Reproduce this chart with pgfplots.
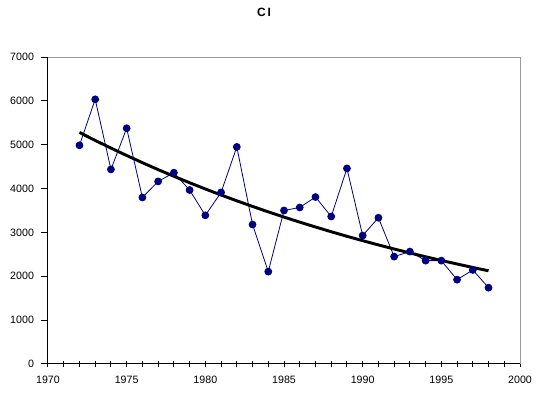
\documentclass[border=0pt]{standalone}
\usepackage{pgfplots}
\pgfplotsset{compat=1.18}
\usepackage{fontspec}
\setmainfont{Liberation Sans}
\definecolor{navy}{HTML}{000080}
\begin{document}
\begin{tikzpicture}
\useasboundingbox (-36pt,-25.5pt) rectangle (367.5pt,273pt);
\begin{axis}[
  at={(0pt,0pt)}, anchor=origin,
  scale only axis, width=354pt, height=230.25pt,
  xmin=1970, xmax=2000, ymin=0, ymax=7000,
  axis lines*=left,
  axis line style={black, line width=0.75pt},
  xtick={1970,1975,...,2000},
  minor x tick num=4,
  ytick={0,1000,...,7000},
  /pgf/number format/1000 sep={},
  /pgf/number format/assume math mode=true,
  tick label style={font=\fontsize{8}{9.6}\selectfont},
  x tick style={black, line width=0.75pt},
  y tick style={black, line width=0.75pt},
  minor x tick style={black, line width=0.75pt},
  xtick align=center, ytick align=outside,
  major tick length=5pt, minor tick length=5pt,
  xticklabel style={yshift=-3pt},
  yticklabel style={xshift=-2pt},
  clip=false,
]
\addplot[navy, line width=0.6pt, mark=*, mark size=2.6pt, mark options={fill=navy, draw=navy}] coordinates {
(1972,4987) (1973,6035) (1974,4437) (1975,5375) (1976,3797) (1977,4163)
(1978,4362) (1979,3967) (1980,3390) (1981,3912) (1982,4950) (1983,3180)
(1984,2106) (1985,3500) (1986,3569) (1987,3807) (1988,3363) (1989,4460)
(1990,2929) (1991,3335) (1992,2449) (1993,2563) (1994,2357) (1995,2357)
(1996,1923) (1997,2144) (1998,1740)
};
\addplot[black, line width=2.2pt] coordinates {
(1972,5280) (1973,5098) (1974,4923) (1975,4754) (1976,4590) (1977,4432)
(1978,4280) (1979,4133) (1980,3991) (1981,3853) (1982,3721) (1983,3593)
(1984,3469) (1985,3350) (1986,3235) (1987,3124) (1988,3016) (1989,2912)
(1990,2812) (1991,2715) (1992,2622) (1993,2532) (1994,2445) (1995,2361)
(1996,2280) (1997,2201) (1998,2125)
};
\draw[gray!80, line width=0.75pt] (rel axis cs:0,1) -- (rel axis cs:1,1) -- (rel axis cs:1,0);
\end{axis}
\node[font=\bfseries\fontsize{9}{10.8}\selectfont] at (162pt,263.6pt) {C\,I};
\end{tikzpicture}
\end{document}
